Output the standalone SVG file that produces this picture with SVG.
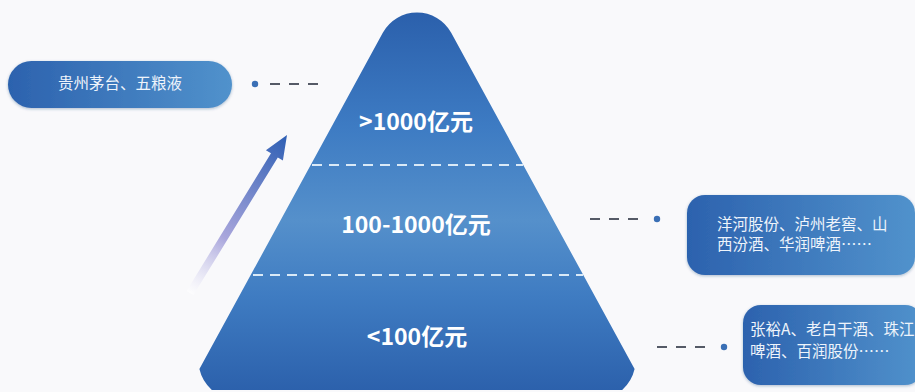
<svg xmlns="http://www.w3.org/2000/svg" width="915" height="392" viewBox="0 0 915 392">
<defs>
<linearGradient id="pyr" x1="0" y1="0" x2="0" y2="1">
<stop offset="0" stop-color="#2b60ac"/>
<stop offset="0.3" stop-color="#3d7bc3"/>
<stop offset="0.55" stop-color="#5590cb"/>
<stop offset="0.75" stop-color="#3f7cc2"/>
<stop offset="1" stop-color="#2c61ac"/>
</linearGradient>
<linearGradient id="box" x1="0" y1="0" x2="1" y2="0">
<stop offset="0" stop-color="#2c62ae"/>
<stop offset="1" stop-color="#5192cc"/>
</linearGradient>
<linearGradient id="arr" gradientUnits="userSpaceOnUse" x1="190" y1="293" x2="287" y2="135">
<stop offset="0" stop-color="#ffffff" stop-opacity="0.6"/>
<stop offset="0.35" stop-color="#a9a6dc"/>
<stop offset="1" stop-color="#2e5fb4"/>
</linearGradient>
<filter id="sh" x="-10%" y="-20%" width="120%" height="150%">
<feDropShadow dx="0" dy="1" stdDeviation="1.5" flood-color="#1d3f75" flood-opacity="0.35"/>
</filter>
<style>
.lvl{font-family:"Noto Sans CJK SC","Noto Sans",sans-serif;font-weight:bold;font-size:23px;fill:#ffffff;text-anchor:middle}
.bt{font-family:"Noto Sans CJK SC","Noto Sans",sans-serif;font-size:15.5px;fill:#eef4fb}
.sep{stroke:#d9e9f7;stroke-width:2;stroke-dasharray:10 7;fill:none}
.dash{stroke:#555a66;stroke-width:2;stroke-dasharray:10 9;fill:none}
.dot{fill:#3a6fb5}
</style>
</defs>
<rect width="915" height="392" fill="#f9f9fb"/>
<g id="pyramid">
<path d="M 382.8 32.8 A 39 39 0 0 1 451.2 32.8 L 634.6 369.1 A 40 40 0 0 1 622.2 390 L 211.8 390 A 40 40 0 0 1 199.4 369.1 Z" fill="url(#pyr)"/>
<line class="sep" x1="312" y1="165" x2="523" y2="165"/>
<line class="sep" x1="253" y1="275" x2="583" y2="275"/>
<text class="lvl" x="416" y="130">&gt;1000亿元</text>
<text class="lvl" x="416" y="233">100-1000亿元</text>
<text class="lvl" x="417" y="345">&lt;100亿元</text>
</g>
<g id="arrow">
<polygon points="186.6,290.9 271,153.3 265.9,150.2 287,135 282.9,160.6 277.8,157.5 193.4,295.1" fill="url(#arr)"/>
</g>
<g id="box-top">
<rect x="8" y="61" width="224" height="47" rx="23.5" fill="url(#box)" filter="url(#sh)"/>
<text class="bt" x="120" y="89" text-anchor="middle" font-size="16">贵州茅台、五粮液</text>
</g>
<g id="box-mid">
<rect x="687" y="195" width="228" height="80" rx="18" fill="url(#box)" filter="url(#sh)"/>
<text class="bt" x="717" y="230">洋河股份、泸州老窖、山</text>
<text class="bt" x="717" y="250">西汾酒、华润啤酒……</text>
</g>
<g id="box-bot">
<rect x="743" y="305" width="180" height="80" rx="18" fill="url(#box)" filter="url(#sh)"/>
<text class="bt" x="750" y="335" font-size="16">张裕A、老白干酒、珠江</text>
<text class="bt" x="750" y="357" font-size="16">啤酒、百润股份……</text>
</g>
<g id="connectors">
<circle class="dot" cx="255" cy="84" r="3.2"/>
<line class="dash" x1="270" y1="84" x2="322" y2="84"/>
<line class="dash" x1="590" y1="219" x2="645" y2="219"/>
<circle class="dot" cx="657" cy="219" r="3.2"/>
<line class="dash" x1="657" y1="347" x2="714" y2="347"/>
<circle class="dot" cx="724" cy="347" r="3.2" fill="#4b4d8c"/>
</g>
</svg>
